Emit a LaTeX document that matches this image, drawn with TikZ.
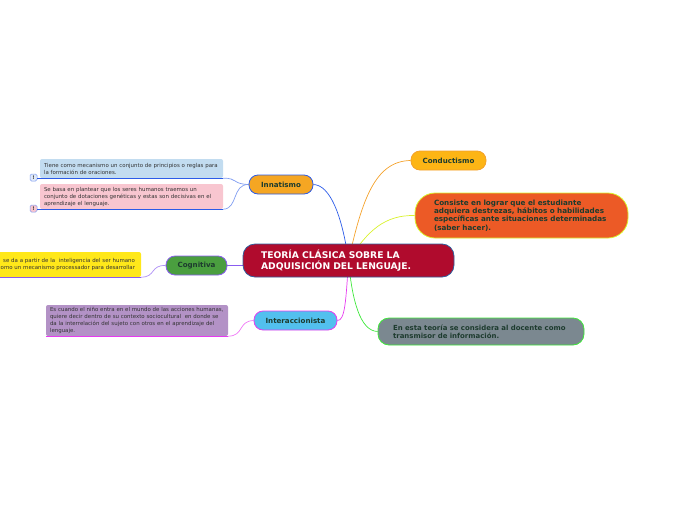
\documentclass[tikz,border=0pt]{standalone}
\usepackage{fontspec}
\setmainfont{DejaVu Sans}
\usetikzlibrary{backgrounds}

\definecolor{labeltext}{HTML}{1D3B2E}
\definecolor{notetext}{HTML}{333333}
\definecolor{rootred}{HTML}{B00B2D}
\definecolor{rootline}{HTML}{2F5E9C}
\definecolor{innblue}{HTML}{2B5BE8}
\definecolor{innfill}{HTML}{F5A623}
\definecolor{conorange}{HTML}{F4A12A}
\definecolor{confill}{HTML}{FDB515}
\definecolor{lime}{HTML}{D9F22C}
\definecolor{consfill}{HTML}{EC5A26}
\definecolor{coggreen}{HTML}{4A9E3F}
\definecolor{cogline}{HTML}{8A5CF0}
\definecolor{intfill}{HTML}{52C0EE}
\definecolor{intline}{HTML}{E73AF0}
\definecolor{enfill}{HTML}{7B8890}
\definecolor{enline}{HTML}{3EE83A}
\definecolor{notea}{HTML}{C2DCF0}
\definecolor{noteb}{HTML}{F8C6D0}
\definecolor{notec}{HTML}{FFE81A}
\definecolor{noted}{HTML}{B392C6}

\tikzset{
  topic/.style={rounded corners=9pt, line width=0.8pt, inner sep=0pt,
    font=\bfseries\fontsize{7.1}{8}\selectfont, text=labeltext},
  note/.style={rounded corners=2pt, inner sep=0pt, align=left,
    font=\fontsize{5.45}{7}\selectfont, text=notetext},
  icon/.style={draw=innblue!60, rounded corners=1.5pt, line width=0.5pt,
    minimum size=7pt, inner sep=0pt, font=\bfseries\fontsize{5}{5}\selectfont, text=notetext},
  link/.style={line width=0.7pt}
}

\begin{document}
\begin{tikzpicture}[x=1pt,y=-1pt]
\useasboundingbox (0,0) rectangle (696,520);

% main topic
\node[topic, fill=rootred, draw=rootline, rounded corners=12pt, text=white,
  minimum width=211, minimum height=33, text width=175, align=left,
  font=\bfseries\fontsize{9.2}{11.5}\selectfont] (teoria) at (348.5,260.5)
  {TEORÍA CLÁSICA SOBRE LA\\ADQUISICIÓN DEL LENGUAJE.};

% right side
\node[topic, fill=confill, draw=conorange, minimum width=75, minimum height=19] (conductismo) at (448.5,160.5) {Conductismo};
\node[topic, fill=consfill, draw=lime, rounded corners=20pt, minimum width=213, minimum height=45,
  text width=175, align=left, font=\bfseries\fontsize{7.2}{8.4}\selectfont] (consiste) at (521.5,215.5)
  {Consiste en lograr que el estudiante\\adquiera destrezas, hábitos o habilidades\\específicas ante situaciones determinadas\\(saber hacer).};
\node[topic, fill=enfill, draw=enline, rounded corners=11pt, minimum width=206, minimum height=27,
  text width=176, align=left, font=\bfseries\fontsize{6.95}{8.4}\selectfont] (docente) at (481,331.5)
  {En esta teoría se considera al docente como\\transmisor de información.};

% left side
\node[topic, fill=innfill, draw=innblue, minimum width=64, minimum height=19] (innatismo) at (281,184.5) {Innatismo};
\node[topic, fill=coggreen, draw=cogline, minimum width=61, minimum height=19] (cognitiva) at (196.5,265.5) {Cognitiva};
\node[topic, fill=intfill, draw=intline, minimum width=83, minimum height=19] (interaccionista) at (295.5,320.5) {Interaccionista};

% notes
\node[note, fill=notea, minimum width=183, minimum height=19, text width=178] (principios) at (131.5,168.5)
  {\hspace*{1.5pt}Tiene como mecanismo un conjunto de principios o reglas para\\\hspace*{1.5pt}la formación de oraciones.};
\node[note, fill=noteb, minimum width=183, minimum height=25, text width=178] (dotaciones) at (131.5,196.5)
  {\hspace*{1.5pt}Se basa en plantear que los seres humanos traemos un\\\hspace*{1.5pt}conjunto de dotaciones genéticas y estas son decisivas en el\\\hspace*{1.5pt}aprendizaje el lenguaje.};
\node[note, fill=notec, minimum width=182, minimum height=25, text width=170, align=right] (inteligencia) at (50,264.5)
  {se da a partir de la \ inteligencia del ser humano\\como un mecanismo processador para desarrollar};
\node[note, fill=noted, minimum width=182, minimum height=31, text width=178] (acciones) at (137,320.5)
  {\hspace*{2pt}Es cuando el niño entra en el mundo de las acciones humanas,\\\hspace*{2pt}quiere decir dentro de su contexto sociocultural \ en donde se\\\hspace*{2pt}da la interrelación del sujeto con otros en el aprendizaje del\\\hspace*{2pt}lenguaje.};

\node[icon, fill=notea!70!innblue!30] (icona) at (33.5,177.5) {!};
\node[icon, fill=noteb] (iconb) at (33.5,208.5) {!};

% connectors
\begin{scope}[on background layer]
\draw[link, innblue] (teoria.center) .. controls (342,215) and (330,185) .. (innatismo.east);
\draw[link, conorange] (teoria.center) .. controls (362,200) and (375,161) .. (conductismo.west);
\draw[link, lime] (teoria.center) .. controls (368,230) and (385,215) .. (consiste.west);
\draw[link, intline] (teoria.center) .. controls (346,300) and (345,321) .. (interaccionista.east);
\draw[link, enline] (teoria.center) .. controls (352,300) and (360,331) .. (docente.west);
\draw[link, cogline] (cognitiva.east) -- (teoria.west |- cognitiva.east);
\draw[link, innblue!60] (innatismo.west) .. controls (232,184) and (238,178) .. (principios.south east);
\draw[link, innblue!60] (innatismo.west) .. controls (232,184) and (238,209) .. (dotaciones.south east);
\draw[link, cogline!70] (cognitiva.west) .. controls (150,265) and (156,277) .. (inteligencia.south east);
\draw[link, intline!70] (interaccionista.west) .. controls (238,321) and (244,336) .. (acciones.south east);
\end{scope}
\draw[line width=1.2pt, innblue] (principios.south east) -- (icona.east |- principios.south);
\draw[line width=1.2pt, innblue] (dotaciones.south east) -- (iconb.east |- dotaciones.south);
\draw[line width=1.2pt, cogline] (inteligencia.south east) -- (inteligencia.south west);
\draw[line width=1.2pt, intline] (acciones.south east) -- (acciones.south west);
\end{tikzpicture}
\end{document}
